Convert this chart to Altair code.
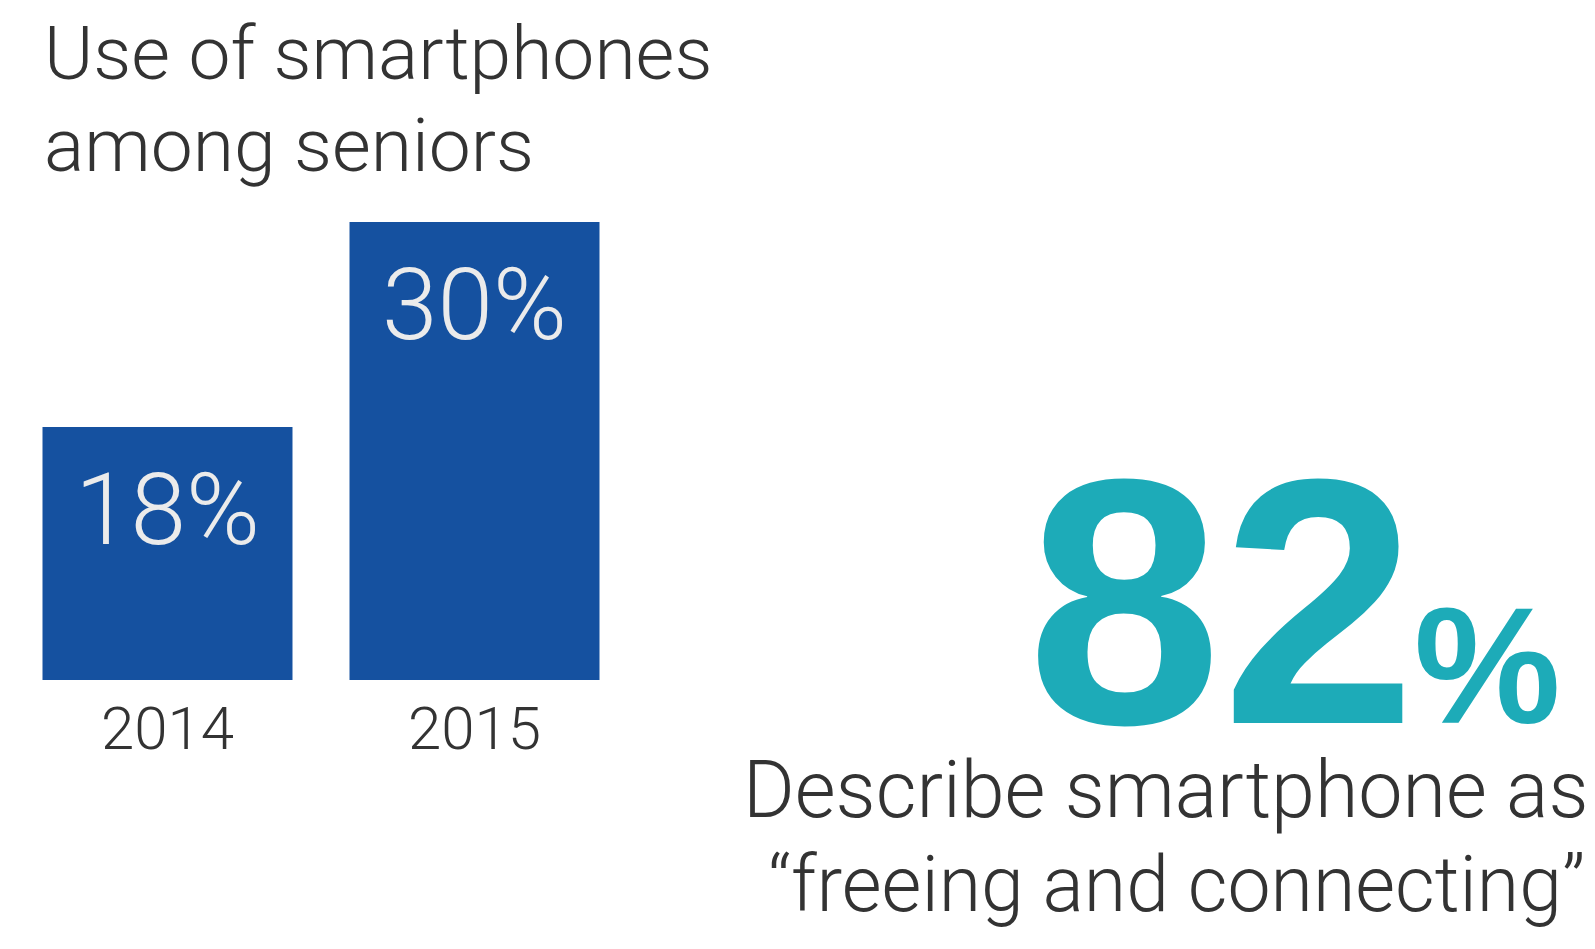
import altair as alt
import pandas as pd

# ---- data ----
years = ["2014", "2015"]
shares = [18, 30]
share_labels = ["18%", "30%"]

title_lines = ["Use of smartphones", "among seniors"]
big_number = "82"
big_unit = "%"
desc_line1 = "Describe smartphone as"
desc_line2 = "\u201cfreeing and connecting\u201d"

BAR = "#1551a0"
TEAL = "#1dabb8"
DARK = "#333333"
LIGHT = "#ebebeb"
FONT = "Roboto"

df = pd.DataFrame({"year": years, "share": shares, "label": share_labels})

x_enc = alt.X("year:N", axis=None,
              scale=alt.Scale(range=[34.5, 591.5], paddingInner=0.1857, paddingOuter=0))
y_enc = alt.Y("share:Q", axis=None,
              scale=alt.Scale(domain=[3.2, 30], range=[672, 214], clamp=True, zero=False))

base = alt.Chart(df)

bars = base.mark_bar(color=BAR, cornerRadius=0).encode(x=x_enc, y=y_enc)

bar_labels = base.mark_text(font=FONT, fontWeight=300, fontSize=100, color=LIGHT,
                            align="center", baseline="alphabetic", dy=117).encode(
    x=x_enc, y=y_enc, text="label:N")

year_labels = base.mark_text(font=FONT, fontWeight=300, fontSize=60, color=DARK,
                             align="center", baseline="alphabetic").encode(
    x=x_enc, y=alt.value(741), text="year:N")

one = alt.Chart(pd.DataFrame({"k": [0]}))

title = one.mark_text(font=FONT, fontWeight=300, fontSize=75, color=DARK,
                      align="left", baseline="alphabetic", lineHeight=92).encode(
    x=alt.value(36), y=alt.value(71), text=alt.value(title_lines))

num = one.mark_text(font="Liberation Sans", fontWeight="bold", fontSize=350, color=TEAL,
                    align="left", baseline="alphabetic").encode(
    x=alt.value(1019), y=alt.value(715), text=alt.value(big_number))

unit = one.mark_text(font="Liberation Sans", fontWeight="bold", fontSize=165, color=TEAL,
                     align="left", baseline="alphabetic").encode(
    x=alt.value(1406), y=alt.value(715), text=alt.value(big_unit))

d1 = one.mark_text(font=FONT, fontWeight=300, fontSize=79, color=DARK,
                   align="left", baseline="alphabetic").encode(
    x=alt.value(735), y=alt.value(809), text=alt.value(desc_line1))

d2 = one.mark_text(font=FONT, fontWeight=300, fontSize=77, color=DARK,
                   align="left", baseline="alphabetic").encode(
    x=alt.value(760), y=alt.value(903), text=alt.value(desc_line2))

chart = alt.layer(bars, bar_labels, year_labels, title, num, unit, d1, d2).properties(
    width=1579, height=933, padding=0,
    autosize=alt.AutoSizeParams(type="none"),
).configure(background="white", view=alt.ViewConfig(stroke=None, strokeWidth=0))

chart.save("out.html", embed_options={"renderer": "svg", "actions": False})
